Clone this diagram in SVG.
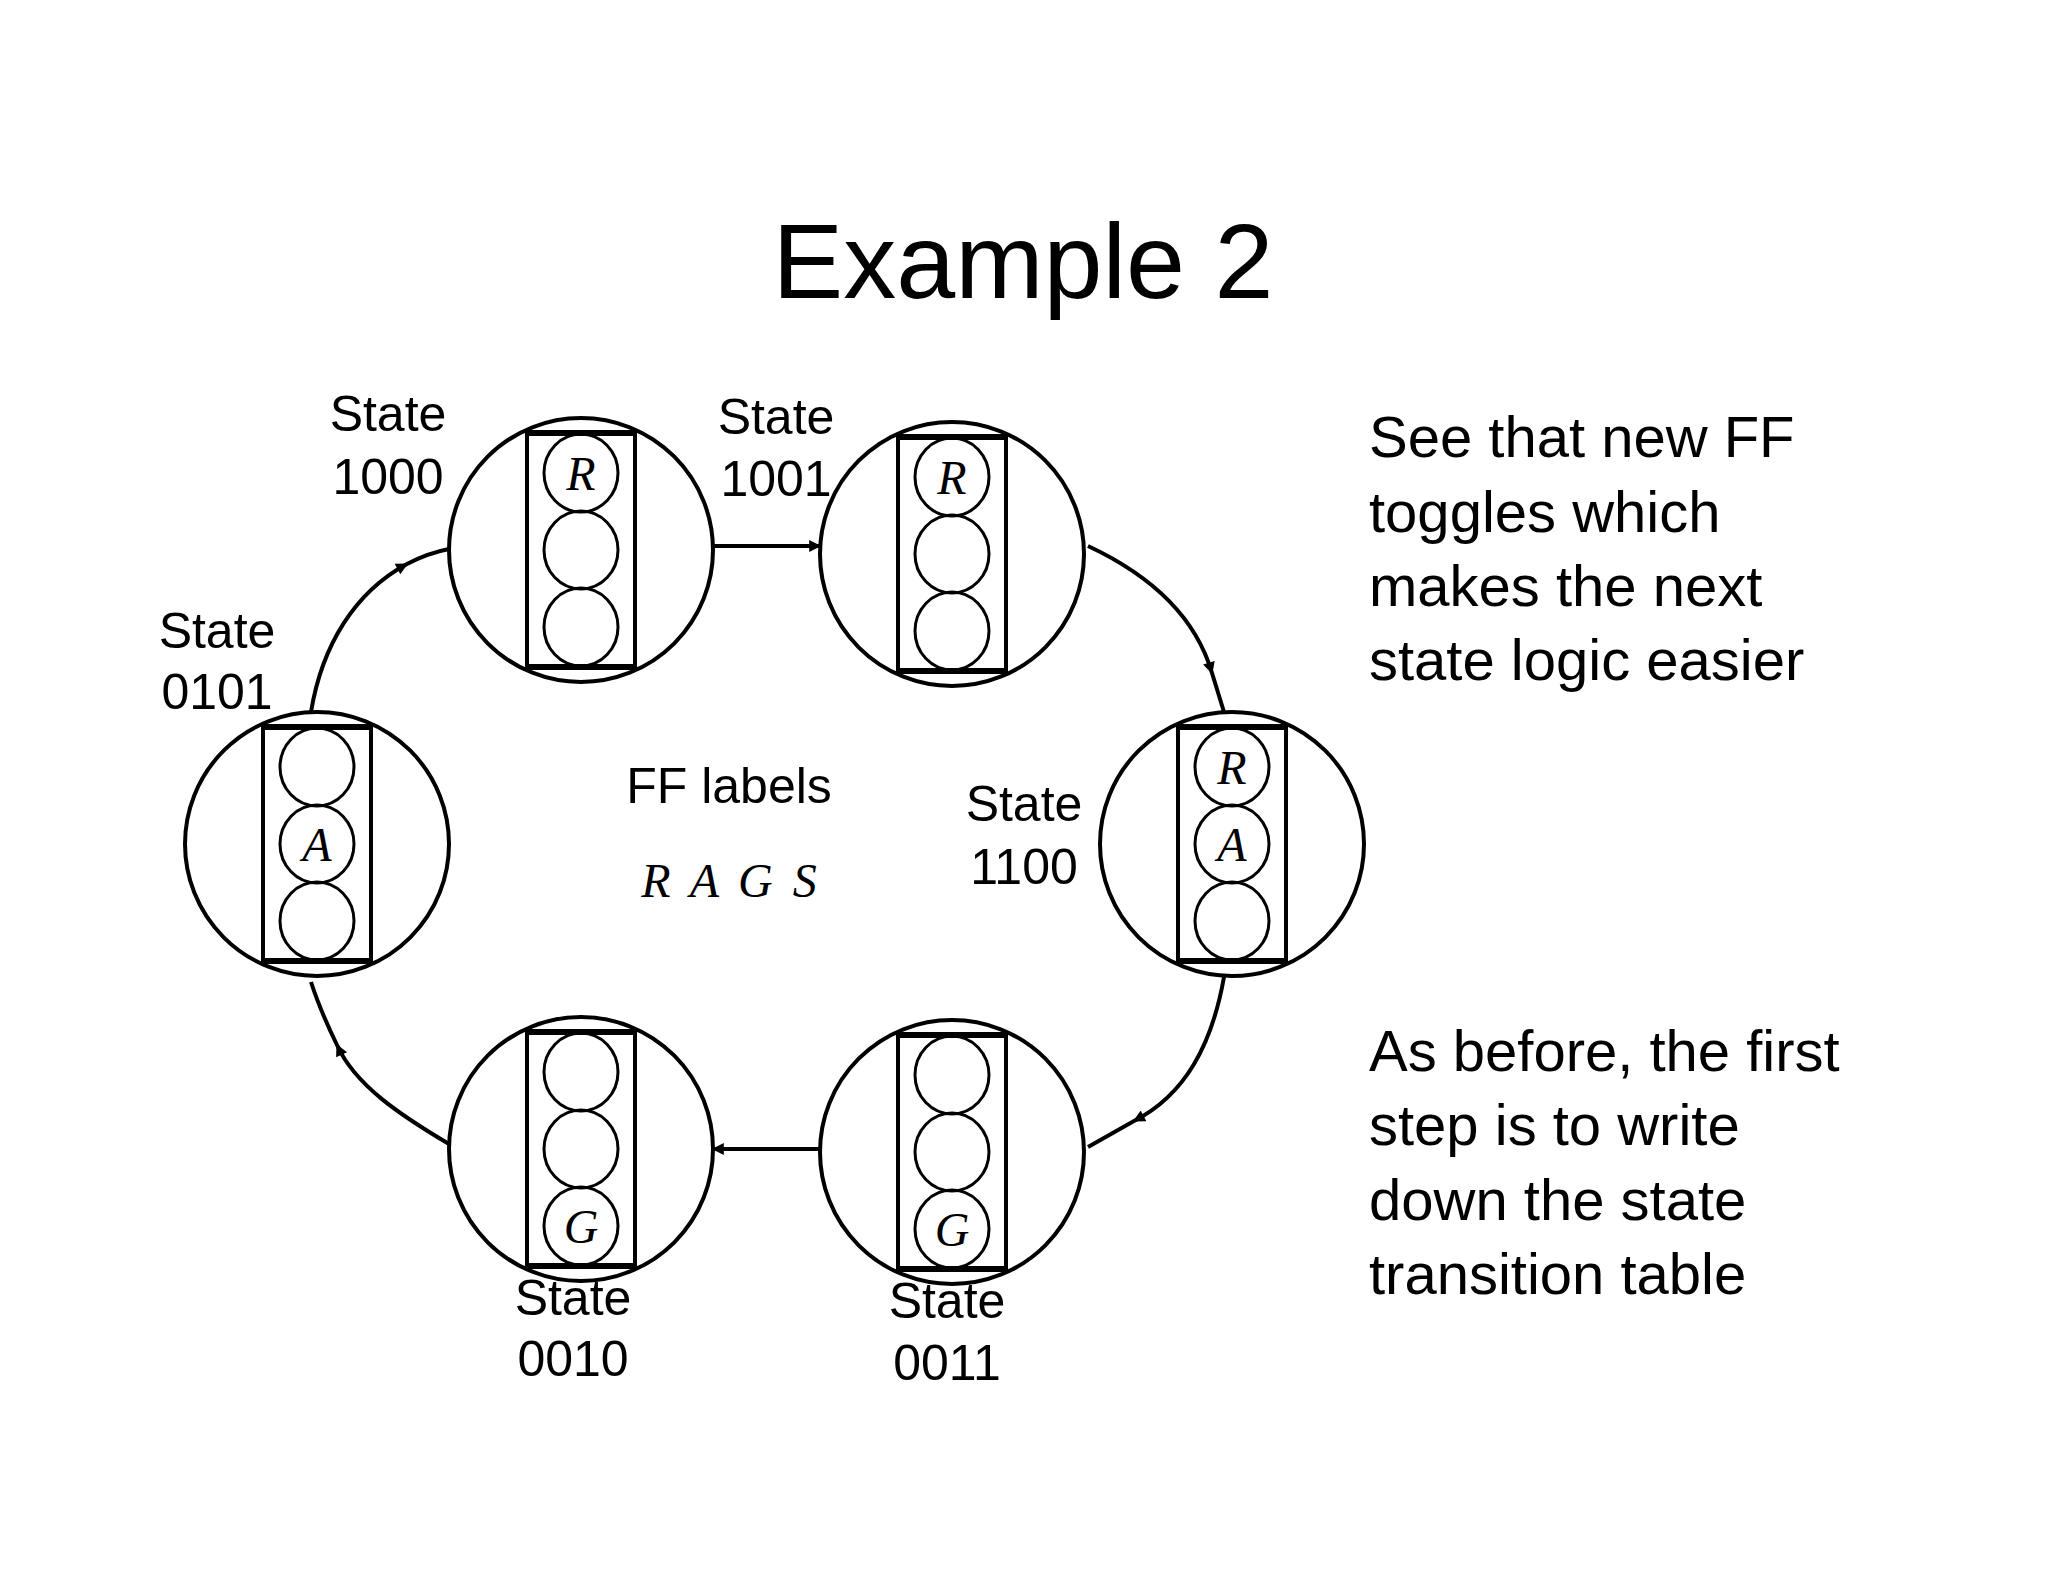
<svg xmlns="http://www.w3.org/2000/svg" width="2048" height="1582" viewBox="0 0 2048 1582">
<style>
.c{fill:#fff;stroke:#000;stroke-width:4}
.r{fill:none;stroke:#000;stroke-width:4}
.l{fill:none;stroke:#000;stroke-width:3}
.bar{stroke:#000;stroke-width:6}
.lt{font-family:"Liberation Serif",serif;font-style:italic;font-size:48px;text-anchor:middle}
.t{font-family:"Liberation Sans",Arial,sans-serif;font-size:50px;text-anchor:middle}
.side{font-family:"Liberation Sans",Arial,sans-serif;font-size:58px}
.e{fill:none;stroke:#000;stroke-width:4}
</style>
<defs>
<marker id="a" viewBox="0 0 10 10" refX="9" refY="5" markerWidth="16" markerHeight="12" markerUnits="userSpaceOnUse" orient="auto"><path d="M0,0 L10,5 L0,10 z" fill="#000"/></marker>
<g id="node"><circle r="132" class="c"/><rect x="-54" y="-117" width="108" height="234" class="r"/><line x1="-54" y1="-117" x2="54" y2="-117" class="bar"/><line x1="-54" y1="117" x2="54" y2="117" class="bar"/><ellipse cx="0" cy="-77" rx="37" ry="39" class="l"/><ellipse cx="0" cy="0" rx="37" ry="39" class="l"/><ellipse cx="0" cy="77" rx="37" ry="39" class="l"/></g>
</defs>
<rect width="2048" height="1582" fill="#fff"/>
<text x="1023" y="298" font-family="Liberation Sans,Arial,sans-serif" font-size="106" text-anchor="middle">Example 2</text>
<g id="n1000"><use href="#node" x="581" y="550"/><text class="lt" x="581" y="490">R</text></g>
<g id="n1001"><use href="#node" x="952" y="554"/><text class="lt" x="952" y="494">R</text></g>
<g id="n1100"><use href="#node" x="1232" y="844"/><text class="lt" x="1232" y="784">R</text><text class="lt" x="1232" y="861">A</text></g>
<g id="n0011"><use href="#node" x="952" y="1152"/><text class="lt" x="952" y="1246">G</text></g>
<g id="n0010"><use href="#node" x="581" y="1149"/><text class="lt" x="581" y="1243">G</text></g>
<g id="n0101"><use href="#node" x="317" y="844"/><text class="lt" x="317" y="861">A</text></g>
<g id="connectors">
<path class="e" d="M713,546 L820,546" marker-end="url(#a)"/>
<path class="e" d="M1088,546 C1150,575 1195,615 1212,673 L1224,712" marker-mid="url(#a)"/>
<path class="e" d="M1224,977 C1212,1045 1185,1095 1134,1121 L1088,1147" marker-mid="url(#a)"/>
<path class="e" d="M820,1149 L713,1149" marker-end="url(#a)"/>
<path class="e" d="M449,1144 C400,1115 355,1085 337,1045 Q320,1010 311,982" marker-mid="url(#a)"/>
<path class="e" d="M311,712 C322,645 355,592 407,564 Q428,553 449,549" marker-mid="url(#a)"/>
</g>
<g id="labels">
<text class="t" x="388" y="431">State</text><text class="t" x="388" y="494">1000</text>
<text class="t" x="776" y="434">State</text><text class="t" x="776" y="496">1001</text>
<text class="t" x="217" y="648">State</text><text class="t" x="217" y="709">0101</text>
<text class="t" x="1024" y="821">State</text><text class="t" x="1024" y="884">1100</text>
<text class="t" x="573" y="1315">State</text><text class="t" x="573" y="1376">0010</text>
<text class="t" x="947" y="1318">State</text><text class="t" x="947" y="1380">0011</text>
<text class="t" x="729" y="803">FF labels</text>
<text class="lt" x="729" y="897" font-size="52" word-spacing="8">R A G S</text>
</g>
<g id="notes">
<text class="side" x="1369" y="457">See that new FF</text>
<text class="side" x="1369" y="532">toggles which</text>
<text class="side" x="1369" y="606">makes the next</text>
<text class="side" x="1369" y="680">state logic easier</text>
<text class="side" x="1369" y="1071">As before, the first</text>
<text class="side" x="1369" y="1145">step is to write</text>
<text class="side" x="1369" y="1220">down the state</text>
<text class="side" x="1369" y="1294">transition table</text>
</g>
</svg>
